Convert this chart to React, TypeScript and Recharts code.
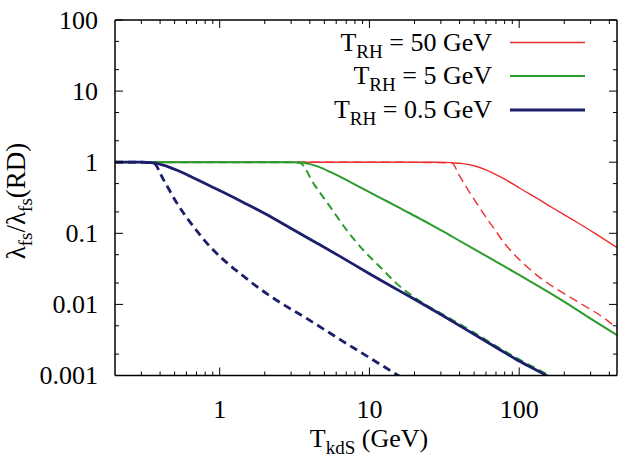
import React from 'react';
import { LineChart, Line, XAxis, YAxis, Customized } from 'recharts';

const FONT = 'Liberation Serif, DejaVu Serif, serif';
const FONT_SIZE = 26;
const TEXT_STYLE = { fontFamily: FONT, fontSize: FONT_SIZE };

// T_kdS (GeV) and lambda_fs / lambda_fs(RD), one pair of arrays per curve
const RED_SOLID_X = [0.2, 10, 30, 36, 42, 50, 60, 75, 90, 101, 130, 169, 230, 311, 450];
const RED_SOLID_Y = [1, 1, 1, 0.98, 0.955, 0.89, 0.78, 0.62, 0.5, 0.43, 0.315, 0.225, 0.153, 0.104, 0.063];

const RED_DASH_X = [0.2, 10, 35.4, 40, 46.9, 53, 60.6, 70, 78.2, 90, 101, 131, 169, 218, 281, 363, 450];
const RED_DASH_Y = [1, 1, 0.98, 0.64, 0.37, 0.25, 0.163, 0.107, 0.076, 0.054, 0.042, 0.0258, 0.0176, 0.0127, 0.0092, 0.0066, 0.0046];

const GREEN_SOLID_X = [0.2, 3, 3.45, 4, 4.6, 5.47, 6.5, 7.8, 9.12, 12, 15.2, 21.8, 25.4, 35, 50, 70, 100, 150, 220, 311, 450];
const GREEN_SOLID_Y = [1, 1, 0.99, 0.94, 0.86, 0.73, 0.61, 0.5, 0.42, 0.31, 0.24, 0.16, 0.135, 0.092, 0.06, 0.04, 0.026, 0.0157, 0.0096, 0.006, 0.0037];

const GREEN_DASH_X = [0.2, 3, 3.45, 4.24, 5.47, 7.07, 9.12, 11.8, 15.2, 19.7, 24.1, 30, 50, 80, 100, 152, 170];
const GREEN_DASH_Y = [1, 1, 0.97, 0.5, 0.235, 0.11, 0.0577, 0.0335, 0.0196, 0.0128, 0.0097, 0.0075, 0.004, 0.0022, 0.00168, 0.00105, 0.00091];

const BLUE_SOLID_X = [0.2, 0.3, 0.36, 0.42, 0.52, 0.65, 0.8, 1, 1.45, 2, 3, 4.5, 6.4, 10, 14, 20, 30, 50, 80, 100, 152, 170];
const BLUE_SOLID_Y = [1, 1, 0.98, 0.91, 0.77, 0.62, 0.5, 0.4, 0.27, 0.19, 0.117, 0.072, 0.047, 0.027, 0.018, 0.0118, 0.0072, 0.0038, 0.0021, 0.0016, 0.001, 0.00087];

const BLUE_DASH_X = [0.2, 0.3, 0.363, 0.423, 0.52, 0.671, 0.867, 1.04, 1.374, 1.7, 2.29, 3.83, 6.38, 10.6, 15.6, 18];
const BLUE_DASH_Y = [1, 1, 0.96, 0.56, 0.262, 0.123, 0.064, 0.044, 0.027, 0.019, 0.0122, 0.0063, 0.0032, 0.00165, 0.001, 0.00083];

const SERIES_NAMES = ['50', '5', '0.5'];
const SERIES_COLORS = ['#ec2e2e', '#2c9c2c', '#1c1f6c'];
const SERIES_WIDTHS = [1.4, 2, 2.8];

const X_MAJOR = [1, 10, 100];
const X_MINOR = [0.3, 0.4, 0.5, 0.6, 0.7, 0.8, 0.9, 2, 3, 4, 5, 6, 7, 8, 9, 20, 30, 40, 50, 60, 70, 80, 90, 200, 300, 400];
const Y_MAJOR = [0.001, 0.01, 0.1, 1, 10, 100];
const Y_MINOR = [0.002, 0.005, 0.02, 0.05, 0.2, 0.5, 2, 5, 20, 50];

const X_TICKS = [...X_MINOR, ...X_MAJOR].sort((a, b) => a - b);
const Y_TICKS = [...Y_MINOR, ...Y_MAJOR].sort((a, b) => a - b);

const pairs = (xs: number[], ys: number[]) => xs.map((x, i) => ({ x, v: ys[i] }));

const MAJOR_LEN = 8;
const MINOR_LEN = 4;

const BottomTick = (p: any) => {
  const { x, y, payload } = p;
  const major = X_MAJOR.includes(payload.value);
  return (
    <g>
      <line x1={x} y1={y} x2={x} y2={y - (major ? MAJOR_LEN : MINOR_LEN)} stroke="#000" strokeWidth={1} />
      {major && (
        <text x={x} y={y + 34} textAnchor="middle" dominantBaseline="central" style={TEXT_STYLE} fill="#000">
          {String(payload.value)}
        </text>
      )}
    </g>
  );
};

const TopTick = (p: any) => {
  const { x, y, payload } = p;
  const major = X_MAJOR.includes(payload.value);
  return <line x1={x} y1={y} x2={x} y2={y + (major ? MAJOR_LEN : MINOR_LEN)} stroke="#000" strokeWidth={1} />;
};

const LeftTick = (p: any) => {
  const { x, y, payload } = p;
  const major = Y_MAJOR.includes(payload.value);
  return (
    <g>
      <line x1={x} y1={y} x2={x + (major ? MAJOR_LEN : MINOR_LEN)} y2={y} stroke="#000" strokeWidth={1} />
      {major && (
        <text x={x - 17} y={y} textAnchor="end" dominantBaseline="central" style={TEXT_STYLE} fill="#000">
          {String(payload.value)}
        </text>
      )}
    </g>
  );
};

const RightTick = (p: any) => {
  const { x, y, payload } = p;
  const major = Y_MAJOR.includes(payload.value);
  return <line x1={x} y1={y} x2={x - (major ? MAJOR_LEN : MINOR_LEN)} y2={y} stroke="#000" strokeWidth={1} />;
};

const SUB = { fontSize: 19 };

const Decorations = () => {
  const rowY = [42.5, 76, 110];
  return (
    <g fill="#000">
      {SERIES_NAMES.map((n, i) => (
        <g key={n}>
          <text x={492} y={rowY[i] + 8} textAnchor="end" style={TEXT_STYLE}>
            <tspan>T</tspan>
            <tspan dy={7} style={SUB}>RH</tspan>
            <tspan dy={-7}>{` = ${n} GeV`}</tspan>
          </text>
          <line x1={510} x2={585} y1={rowY[i]} y2={rowY[i]} stroke={SERIES_COLORS[i]} strokeWidth={SERIES_WIDTHS[i]} />
        </g>
      ))}
      <text x={369} y={447} textAnchor="middle" style={TEXT_STYLE}>
        <tspan>T</tspan>
        <tspan dy={7} style={SUB}>kdS</tspan>
        <tspan dy={-7}> (GeV)</tspan>
      </text>
      <text transform="translate(25,201) rotate(-90)" textAnchor="middle" style={{ ...TEXT_STYLE, fontSize: 27 }}>
        <tspan>λ</tspan>
        <tspan dy={7} style={SUB}>fs</tspan>
        <tspan dy={-7}>/λ</tspan>
        <tspan dy={7} style={SUB}>fs</tspan>
        <tspan dy={-7}>(RD)</tspan>
      </text>
    </g>
  );
};

const curves = [
  { data: pairs(RED_SOLID_X, RED_SOLID_Y), c: 0, dash: undefined },
  { data: pairs(RED_DASH_X, RED_DASH_Y), c: 0, dash: '9 5' },
  { data: pairs(GREEN_SOLID_X, GREEN_SOLID_Y), c: 1, dash: undefined },
  { data: pairs(GREEN_DASH_X, GREEN_DASH_Y), c: 1, dash: '8 5' },
  { data: pairs(BLUE_SOLID_X, BLUE_SOLID_Y), c: 2, dash: undefined },
  { data: pairs(BLUE_DASH_X, BLUE_DASH_Y), c: 2, dash: '8 5' },
];

export default function App() {
  return (
    <div style={{ position: 'absolute', left: 0, top: 0, width: 633, height: 462, background: '#fff' }}>
      <LineChart width={633} height={462} margin={{ top: 0, right: 0, bottom: 0, left: 0 }}>
        <XAxis
          xAxisId="b"
          orientation="bottom"
          dataKey="x"
          type="number"
          scale="log"
          domain={[0.2, 450]}
          allowDataOverflow
          ticks={X_TICKS}
          interval={0}
          tickSize={0}
          tickMargin={0}
          tickLine={false}
          tick={BottomTick}
          axisLine={{ stroke: '#000', strokeWidth: 1.5 }}
          height={86.5}
        />
        <XAxis
          xAxisId="t"
          orientation="top"
          dataKey="x"
          type="number"
          scale="log"
          domain={[0.2, 450]}
          allowDataOverflow
          ticks={X_TICKS}
          interval={0}
          tickSize={0}
          tickMargin={0}
          tickLine={false}
          tick={TopTick}
          axisLine={{ stroke: '#000', strokeWidth: 1.5 }}
          height={20}
        />
        <YAxis
          yAxisId="l"
          orientation="left"
          type="number"
          scale="log"
          domain={[0.001, 100]}
          allowDataOverflow
          ticks={Y_TICKS}
          interval={0}
          tickSize={0}
          tickMargin={0}
          tickLine={false}
          tick={LeftTick}
          axisLine={{ stroke: '#000', strokeWidth: 1.5 }}
          width={115}
        />
        <YAxis
          yAxisId="r"
          orientation="right"
          type="number"
          scale="log"
          domain={[0.001, 100]}
          allowDataOverflow
          ticks={Y_TICKS}
          interval={0}
          tickSize={0}
          tickMargin={0}
          tickLine={false}
          tick={RightTick}
          axisLine={{ stroke: '#000', strokeWidth: 1.5 }}
          width={16}
        />
        {curves.map((s, i) => (
          <Line
            key={i}
            xAxisId="b"
            yAxisId="l"
            data={s.data}
            dataKey="v"
            type="monotone"
            stroke={SERIES_COLORS[s.c]}
            strokeWidth={SERIES_WIDTHS[s.c]}
            strokeDasharray={s.dash}
            dot={false}
            activeDot={false}
            isAnimationActive={false}
          />
        ))}
        <Customized component={Decorations} />
      </LineChart>
    </div>
  );
}
